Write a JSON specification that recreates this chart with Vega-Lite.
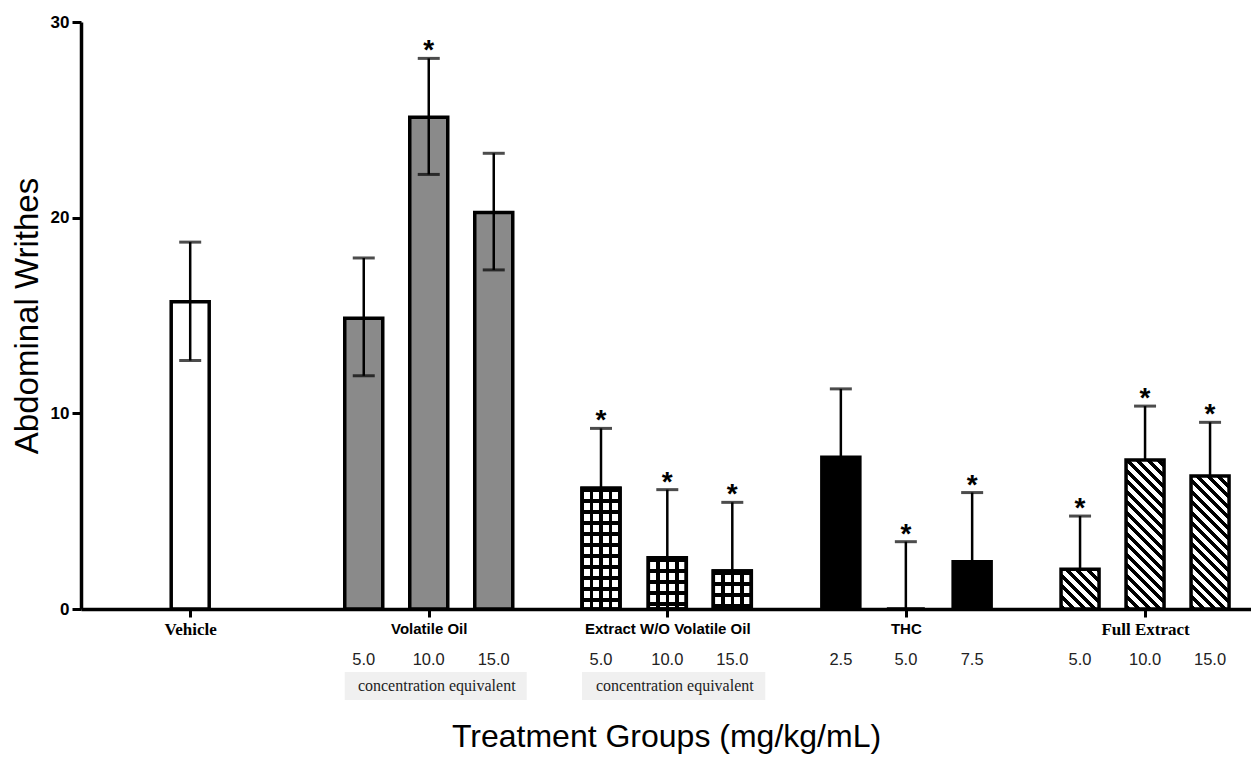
{
  "$schema": "https://vega.github.io/schema/vega-lite/v6.json",
  "width": 1170,
  "height": 587,
  "autosize": "none",
  "padding": {"left": 81, "top": 22, "right": 0, "bottom": 148},
  "background": "white",
  "config": {"view": {"stroke": null}, "axis": {"grid": false}},
  "datasets": {
    "bars": [
      {"group": "Vehicle", "id": "V", "dose": "", "pos": 1.68, "v": 15.7, "lo": 12.7, "hi": 18.75, "sig": false},
      {"group": "Volatile Oil", "id": "O5", "dose": "5.0", "pos": 4.35, "v": 14.86, "lo": 11.92, "hi": 17.94, "sig": false},
      {"group": "Volatile Oil", "id": "O10", "dose": "10.0", "pos": 5.35, "v": 25.13, "lo": 22.21, "hi": 28.14, "sig": true},
      {"group": "Volatile Oil", "id": "O15", "dose": "15.0", "pos": 6.35, "v": 20.27, "lo": 17.33, "hi": 23.29, "sig": false},
      {"group": "Extract W/O Volatile Oil", "id": "E5", "dose": "5.0", "pos": 8.0, "v": 6.17, "lo": 6.17, "hi": 9.23, "sig": true},
      {"group": "Extract W/O Volatile Oil", "id": "E10", "dose": "10.0", "pos": 9.02, "v": 2.62, "lo": 2.62, "hi": 6.1, "sig": true},
      {"group": "Extract W/O Volatile Oil", "id": "E15", "dose": "15.0", "pos": 10.02, "v": 1.94, "lo": 1.94, "hi": 5.45, "sig": true},
      {"group": "THC", "id": "T2.5", "dose": "2.5", "pos": 11.69, "v": 7.75, "lo": 7.75, "hi": 11.25, "sig": false},
      {"group": "THC", "id": "T5", "dose": "5.0", "pos": 12.69, "v": 0, "lo": 0, "hi": 3.44, "sig": true},
      {"group": "THC", "id": "T7.5", "dose": "7.5", "pos": 13.71, "v": 2.42, "lo": 2.42, "hi": 5.95, "sig": true},
      {"group": "Full Extract", "id": "F5", "dose": "5.0", "pos": 15.37, "v": 2.03, "lo": 2.03, "hi": 4.75, "sig": true},
      {"group": "Full Extract", "id": "F10", "dose": "10.0", "pos": 16.37, "v": 7.61, "lo": 7.61, "hi": 10.37, "sig": true},
      {"group": "Full Extract", "id": "F15", "dose": "15.0", "pos": 17.37, "v": 6.8, "lo": 6.8, "hi": 9.54, "sig": true}
    ]
  },
  "data": {"name": "bars"},
  "layer": [
    {
      "mark": {"type": "bar", "size": 38, "stroke": "black", "strokeWidth": 3.5},
      "encoding": {
        "x": {
          "field": "pos", "type": "quantitative", "scale": {"domain": [0, 18], "padding": 0, "nice": false, "zero": false},
          "axis": {
            "values": [1.68, 5.35, 9.02, 12.69, 16.37],
            "labelExpr": "datum.value < 3 ? 'Vehicle' : datum.value < 7 ? 'Volatile Oil' : datum.value < 11 ? 'Extract W/O Volatile Oil' : datum.value < 14 ? 'THC' : 'Full Extract'",
            "labelFont": {"condition": {"test": "datum.value < 3 || datum.value > 15", "value": "Liberation Serif"}, "value": "Liberation Sans"},
            "labelFontSize": {"condition": {"test": "datum.value < 3 || datum.value > 15", "value": 17}, "value": 15},
            "labelFontWeight": "bold",
            "labelColor": "black",
            "labelPadding": 4,
            "labelOverlap": false,
            "labelFlush": false,
            "labelBound": false,
            "title": "Treatment Groups (mg/kg/mL)",
            "titleFont": "Liberation Sans",
            "titleFontSize": 32,
            "titleFontWeight": "normal",
            "titleColor": "black",
            "titlePadding": 84,
            "domainColor": "black",
            "domainWidth": 3.5,
            "tickColor": "black",
            "tickWidth": 3,
            "tickSize": 8,
            "grid": false
          }
        },
        "y": {
          "field": "v", "type": "quantitative", "scale": {"domain": [0, 30], "nice": false},
          "axis": {
            "values": [0, 10, 20, 30],
            "title": "Abdominal Writhes",
            "titleFont": "Liberation Sans",
            "titleFontSize": 33,
            "titleFontWeight": "normal",
            "titleColor": "black",
            "titlePadding": 6,
            "labelFont": "Liberation Sans",
            "labelFontWeight": "bold",
            "labelFontSize": 17,
            "labelColor": "black",
            "labelPadding": 3,
            "tickSize": 9,
            "tickWidth": 3,
            "tickColor": "black",
            "domainWidth": 3.5,
            "domainColor": "black",
            "grid": false
          }
        },
        "fill": {
          "condition": [
            {"test": "datum.group === 'Volatile Oil'", "value": "#8a8a8a"},
            {"test": "datum.group === 'THC'", "value": "black"},
            {"test": "datum.id === 'E5'", "value": {"gradient": "linear", "x1": 0, "y1": 0, "x2": 0, "y2": 1, "stops": [
              {"offset": 0, "color": "black"}, {"offset": 0.0331, "color": "black"}, {"offset": 0.0331, "color": "white"}, {"offset": 0.0911, "color": "white"},
              {"offset": 0.0911, "color": "black"}, {"offset": 0.1243, "color": "black"}, {"offset": 0.1243, "color": "white"}, {"offset": 0.1823, "color": "white"},
              {"offset": 0.1823, "color": "black"}, {"offset": 0.2154, "color": "black"}, {"offset": 0.2154, "color": "white"}, {"offset": 0.2734, "color": "white"},
              {"offset": 0.2734, "color": "black"}, {"offset": 0.3066, "color": "black"}, {"offset": 0.3066, "color": "white"}, {"offset": 0.3646, "color": "white"},
              {"offset": 0.3646, "color": "black"}, {"offset": 0.3977, "color": "black"}, {"offset": 0.3977, "color": "white"}, {"offset": 0.4557, "color": "white"},
              {"offset": 0.4557, "color": "black"}, {"offset": 0.4888, "color": "black"}, {"offset": 0.4888, "color": "white"}, {"offset": 0.5468, "color": "white"},
              {"offset": 0.5468, "color": "black"}, {"offset": 0.58, "color": "black"}, {"offset": 0.58, "color": "white"}, {"offset": 0.638, "color": "white"},
              {"offset": 0.638, "color": "black"}, {"offset": 0.6711, "color": "black"}, {"offset": 0.6711, "color": "white"}, {"offset": 0.7291, "color": "white"},
              {"offset": 0.7291, "color": "black"}, {"offset": 0.7622, "color": "black"}, {"offset": 0.7622, "color": "white"}, {"offset": 0.8203, "color": "white"},
              {"offset": 0.8203, "color": "black"}, {"offset": 0.8534, "color": "black"}, {"offset": 0.8534, "color": "white"}, {"offset": 0.9114, "color": "white"},
              {"offset": 0.9114, "color": "black"}, {"offset": 0.9445, "color": "black"}, {"offset": 0.9445, "color": "white"}, {"offset": 1, "color": "white"}
            ]}},
            {"test": "datum.id === 'E10'", "value": {"gradient": "linear", "x1": 0, "y1": 0, "x2": 0, "y2": 1, "stops": [
              {"offset": 0, "color": "black"}, {"offset": 0.078, "color": "black"}, {"offset": 0.078, "color": "white"}, {"offset": 0.2144, "color": "white"},
              {"offset": 0.2144, "color": "black"}, {"offset": 0.2924, "color": "black"}, {"offset": 0.2924, "color": "white"}, {"offset": 0.4288, "color": "white"},
              {"offset": 0.4288, "color": "black"}, {"offset": 0.5068, "color": "black"}, {"offset": 0.5068, "color": "white"}, {"offset": 0.6433, "color": "white"},
              {"offset": 0.6433, "color": "black"}, {"offset": 0.7213, "color": "black"}, {"offset": 0.7213, "color": "white"}, {"offset": 0.8577, "color": "white"},
              {"offset": 0.8577, "color": "black"}, {"offset": 0.9357, "color": "black"}, {"offset": 0.9357, "color": "white"}, {"offset": 1, "color": "white"}
            ]}},
            {"test": "datum.id === 'E15'", "value": {"gradient": "linear", "x1": 0, "y1": 0, "x2": 0, "y2": 1, "stops": [
              {"offset": 0, "color": "black"}, {"offset": 0.1053, "color": "black"}, {"offset": 0.1053, "color": "white"}, {"offset": 0.2895, "color": "white"},
              {"offset": 0.2895, "color": "black"}, {"offset": 0.3947, "color": "black"}, {"offset": 0.3947, "color": "white"}, {"offset": 0.5789, "color": "white"},
              {"offset": 0.5789, "color": "black"}, {"offset": 0.6842, "color": "black"}, {"offset": 0.6842, "color": "white"}, {"offset": 0.8684, "color": "white"},
              {"offset": 0.8684, "color": "black"}, {"offset": 0.9737, "color": "black"}, {"offset": 0.9737, "color": "white"}, {"offset": 1, "color": "white"}
            ]}},
            {"test": "datum.id === 'F5'", "value": {"gradient": "linear", "x1": 0, "y1": 1, "x2": 0.9777, "y2": -0.0214, "stops": [
              {"offset": 0, "color": "black"}, {"offset": 0.06755, "color": "black"}, {"offset": 0.06755, "color": "white"}, {"offset": 0.1351, "color": "white"},
              {"offset": 0.1351, "color": "black"}, {"offset": 0.20265, "color": "black"}, {"offset": 0.20265, "color": "white"}, {"offset": 0.2702, "color": "white"},
              {"offset": 0.2702, "color": "black"}, {"offset": 0.33775, "color": "black"}, {"offset": 0.33775, "color": "white"}, {"offset": 0.4053, "color": "white"},
              {"offset": 0.4053, "color": "black"}, {"offset": 0.47285, "color": "black"}, {"offset": 0.47285, "color": "white"}, {"offset": 0.5404, "color": "white"},
              {"offset": 0.5404, "color": "black"}, {"offset": 0.60795, "color": "black"}, {"offset": 0.60795, "color": "white"}, {"offset": 0.6755, "color": "white"},
              {"offset": 0.6755, "color": "black"}, {"offset": 0.74305, "color": "black"}, {"offset": 0.74305, "color": "white"}, {"offset": 0.8106, "color": "white"},
              {"offset": 0.8106, "color": "black"}, {"offset": 0.87815, "color": "black"}, {"offset": 0.87815, "color": "white"}, {"offset": 0.9457, "color": "white"},
              {"offset": 0.9457, "color": "black"}, {"offset": 1, "color": "black"}
            ]}},
            {"test": "datum.id === 'F10'", "value": {"gradient": "linear", "x1": 0, "y1": 1, "x2": 0.3008, "y2": -0.1785, "stops": [
              {"offset": 0, "color": "black"}, {"offset": 0.02809, "color": "black"}, {"offset": 0.02809, "color": "white"}, {"offset": 0.05618, "color": "white"},
              {"offset": 0.05618, "color": "black"}, {"offset": 0.08427, "color": "black"}, {"offset": 0.08427, "color": "white"}, {"offset": 0.11236, "color": "white"},
              {"offset": 0.11236, "color": "black"}, {"offset": 0.14045, "color": "black"}, {"offset": 0.14045, "color": "white"}, {"offset": 0.16854, "color": "white"},
              {"offset": 0.16854, "color": "black"}, {"offset": 0.19663, "color": "black"}, {"offset": 0.19663, "color": "white"}, {"offset": 0.22472, "color": "white"},
              {"offset": 0.22472, "color": "black"}, {"offset": 0.25281, "color": "black"}, {"offset": 0.25281, "color": "white"}, {"offset": 0.2809, "color": "white"},
              {"offset": 0.2809, "color": "black"}, {"offset": 0.30899, "color": "black"}, {"offset": 0.30899, "color": "white"}, {"offset": 0.33708, "color": "white"},
              {"offset": 0.33708, "color": "black"}, {"offset": 0.36517, "color": "black"}, {"offset": 0.36517, "color": "white"}, {"offset": 0.39326, "color": "white"},
              {"offset": 0.39326, "color": "black"}, {"offset": 0.42135, "color": "black"}, {"offset": 0.42135, "color": "white"}, {"offset": 0.44944, "color": "white"},
              {"offset": 0.44944, "color": "black"}, {"offset": 0.47753, "color": "black"}, {"offset": 0.47753, "color": "white"}, {"offset": 0.50562, "color": "white"},
              {"offset": 0.50562, "color": "black"}, {"offset": 0.53371, "color": "black"}, {"offset": 0.53371, "color": "white"}, {"offset": 0.5618, "color": "white"},
              {"offset": 0.5618, "color": "black"}, {"offset": 0.58989, "color": "black"}, {"offset": 0.58989, "color": "white"}, {"offset": 0.61798, "color": "white"},
              {"offset": 0.61798, "color": "black"}, {"offset": 0.64607, "color": "black"}, {"offset": 0.64607, "color": "white"}, {"offset": 0.67416, "color": "white"},
              {"offset": 0.67416, "color": "black"}, {"offset": 0.70225, "color": "black"}, {"offset": 0.70225, "color": "white"}, {"offset": 0.73034, "color": "white"},
              {"offset": 0.73034, "color": "black"}, {"offset": 0.75843, "color": "black"}, {"offset": 0.75843, "color": "white"}, {"offset": 0.78652, "color": "white"},
              {"offset": 0.78652, "color": "black"}, {"offset": 0.81461, "color": "black"}, {"offset": 0.81461, "color": "white"}, {"offset": 0.8427, "color": "white"},
              {"offset": 0.8427, "color": "black"}, {"offset": 0.87079, "color": "black"}, {"offset": 0.87079, "color": "white"}, {"offset": 0.89888, "color": "white"},
              {"offset": 0.89888, "color": "black"}, {"offset": 0.92697, "color": "black"}, {"offset": 0.92697, "color": "white"}, {"offset": 0.95506, "color": "white"},
              {"offset": 0.95506, "color": "black"}, {"offset": 0.98315, "color": "black"}, {"offset": 0.98315, "color": "white"}, {"offset": 1, "color": "white"}
            ]}},
            {"test": "datum.id === 'F15'", "value": {"gradient": "linear", "x1": 0, "y1": 1, "x2": 0.3393, "y2": -0.1886, "stops": [
              {"offset": 0, "color": "black"}, {"offset": 0.030685, "color": "black"}, {"offset": 0.030685, "color": "white"}, {"offset": 0.06137, "color": "white"},
              {"offset": 0.06137, "color": "black"}, {"offset": 0.092055, "color": "black"}, {"offset": 0.092055, "color": "white"}, {"offset": 0.12274, "color": "white"},
              {"offset": 0.12274, "color": "black"}, {"offset": 0.153425, "color": "black"}, {"offset": 0.153425, "color": "white"}, {"offset": 0.18411, "color": "white"},
              {"offset": 0.18411, "color": "black"}, {"offset": 0.214795, "color": "black"}, {"offset": 0.214795, "color": "white"}, {"offset": 0.24548, "color": "white"},
              {"offset": 0.24548, "color": "black"}, {"offset": 0.276165, "color": "black"}, {"offset": 0.276165, "color": "white"}, {"offset": 0.30685, "color": "white"},
              {"offset": 0.30685, "color": "black"}, {"offset": 0.337535, "color": "black"}, {"offset": 0.337535, "color": "white"}, {"offset": 0.36822, "color": "white"},
              {"offset": 0.36822, "color": "black"}, {"offset": 0.398905, "color": "black"}, {"offset": 0.398905, "color": "white"}, {"offset": 0.42959, "color": "white"},
              {"offset": 0.42959, "color": "black"}, {"offset": 0.460275, "color": "black"}, {"offset": 0.460275, "color": "white"}, {"offset": 0.49096, "color": "white"},
              {"offset": 0.49096, "color": "black"}, {"offset": 0.521645, "color": "black"}, {"offset": 0.521645, "color": "white"}, {"offset": 0.55233, "color": "white"},
              {"offset": 0.55233, "color": "black"}, {"offset": 0.583015, "color": "black"}, {"offset": 0.583015, "color": "white"}, {"offset": 0.6137, "color": "white"},
              {"offset": 0.6137, "color": "black"}, {"offset": 0.644385, "color": "black"}, {"offset": 0.644385, "color": "white"}, {"offset": 0.67507, "color": "white"},
              {"offset": 0.67507, "color": "black"}, {"offset": 0.705755, "color": "black"}, {"offset": 0.705755, "color": "white"}, {"offset": 0.73644, "color": "white"},
              {"offset": 0.73644, "color": "black"}, {"offset": 0.767125, "color": "black"}, {"offset": 0.767125, "color": "white"}, {"offset": 0.79781, "color": "white"},
              {"offset": 0.79781, "color": "black"}, {"offset": 0.828495, "color": "black"}, {"offset": 0.828495, "color": "white"}, {"offset": 0.85918, "color": "white"},
              {"offset": 0.85918, "color": "black"}, {"offset": 0.889865, "color": "black"}, {"offset": 0.889865, "color": "white"}, {"offset": 0.92055, "color": "white"},
              {"offset": 0.92055, "color": "black"}, {"offset": 0.951235, "color": "black"}, {"offset": 0.951235, "color": "white"}, {"offset": 0.98192, "color": "white"},
              {"offset": 0.98192, "color": "black"}, {"offset": 1, "color": "black"}
            ]}}
          ],
          "value": "white"
        }
      }
    },
    {
      "transform": [{"filter": "datum.group === 'Extract W/O Volatile Oil'"}],
      "mark": {"type": "bar", "size": 38, "stroke": "black", "strokeWidth": 3.5,
        "fill": {"gradient": "linear", "x1": 0, "y1": 0, "x2": 1, "y2": 0, "stops": [
          {"offset": 0, "color": "black"}, {"offset": 0.046, "color": "black"}, {"offset": 0.046, "color": "rgba(0,0,0,0)"}, {"offset": 0.204, "color": "rgba(0,0,0,0)"},
          {"offset": 0.204, "color": "black"}, {"offset": 0.296, "color": "black"}, {"offset": 0.296, "color": "rgba(0,0,0,0)"}, {"offset": 0.454, "color": "rgba(0,0,0,0)"},
          {"offset": 0.454, "color": "black"}, {"offset": 0.546, "color": "black"}, {"offset": 0.546, "color": "rgba(0,0,0,0)"}, {"offset": 0.704, "color": "rgba(0,0,0,0)"},
          {"offset": 0.704, "color": "black"}, {"offset": 0.796, "color": "black"}, {"offset": 0.796, "color": "rgba(0,0,0,0)"}, {"offset": 0.954, "color": "rgba(0,0,0,0)"},
          {"offset": 0.954, "color": "black"}, {"offset": 1, "color": "black"}
        ]}},
      "encoding": {
        "x": {"field": "pos", "type": "quantitative"},
        "y": {"field": "v", "type": "quantitative"}
      }
    },
    {
      "mark": {"type": "rule", "color": "black", "strokeWidth": 2.5},
      "encoding": {
        "x": {"field": "pos", "type": "quantitative"},
        "y": {"field": "lo", "type": "quantitative"},
        "y2": {"field": "hi"}
      }
    },
    {
      "mark": {"type": "tick", "orient": "horizontal", "color": "black", "size": 22, "thickness": 3},
      "encoding": {
        "x": {"field": "pos", "type": "quantitative"},
        "y": {"field": "hi", "type": "quantitative"}
      }
    },
    {
      "transform": [{"filter": "datum.lo < datum.v"}],
      "mark": {"type": "tick", "orient": "horizontal", "color": "black", "size": 22, "thickness": 3},
      "encoding": {
        "x": {"field": "pos", "type": "quantitative"},
        "y": {"field": "lo", "type": "quantitative"}
      }
    },
    {
      "transform": [{"filter": "datum.sig"}],
      "mark": {"type": "text", "text": "*", "font": "Liberation Sans", "fontSize": 28, "fontWeight": "bold", "color": "black", "baseline": "alphabetic", "align": "center", "dy": 1},
      "encoding": {
        "x": {"field": "pos", "type": "quantitative"},
        "y": {"field": "hi", "type": "quantitative"}
      }
    },
    {
      "transform": [{"filter": "datum.dose !== ''"}],
      "mark": {"type": "text", "font": "Liberation Sans", "fontSize": 16.5, "color": "#222222", "baseline": "middle", "align": "center"},
      "encoding": {
        "x": {"field": "pos", "type": "quantitative"},
        "y": {"datum": -2.6, "type": "quantitative"},
        "text": {"field": "dose"}
      }
    },
    {
      "transform": [
        {"filter": "datum.group === 'Volatile Oil' || datum.group === 'Extract W/O Volatile Oil'"},
        {"aggregate": [{"op": "min", "field": "pos", "as": "pmin"}, {"op": "max", "field": "pos", "as": "pmax"}], "groupby": ["group"]}
      ],
      "mark": {"type": "rect", "fill": "#f0f0f0", "xOffset": -19, "x2Offset": 33},
      "encoding": {
        "x": {"field": "pmin", "type": "quantitative"},
        "x2": {"field": "pmax"},
        "y": {"datum": -3.22, "type": "quantitative"},
        "y2": {"datum": -4.65}
      }
    },
    {
      "transform": [
        {"filter": "datum.group === 'Volatile Oil' || datum.group === 'Extract W/O Volatile Oil'"},
        {"aggregate": [{"op": "mean", "field": "pos", "as": "pmid"}], "groupby": ["group"]}
      ],
      "mark": {"type": "text", "text": "concentration equivalent", "font": "Liberation Serif", "fontSize": 16, "color": "#222222", "baseline": "middle", "align": "center", "xOffset": 8},
      "encoding": {
        "x": {"field": "pmid", "type": "quantitative"},
        "y": {"datum": -3.95, "type": "quantitative"}
      }
    }
  ]
}
